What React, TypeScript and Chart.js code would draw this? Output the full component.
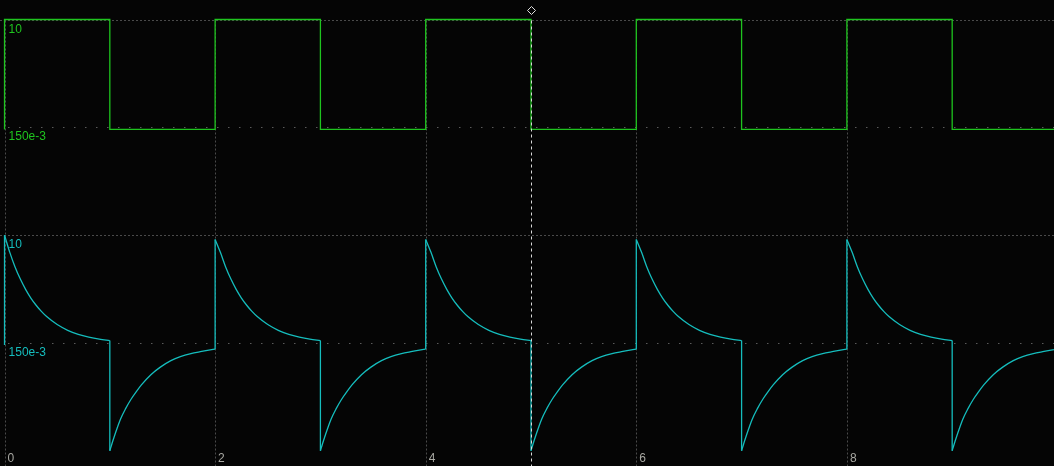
import React, { useEffect, useRef } from "react";
import { Chart, registerables } from "chart.js";

Chart.register(...registerables);

// ---- axis ranges (in screen divisions) ----
const xRange = [-0.043, 9.967];
const yRange = [-0.142, 4.181];

// ---- grid / ticks ----
const xGridValues = [0, 2, 4, 6, 8];
const xTickValues = [0, 2, 4, 6, 8];
const xTickLabels = ["0", "2", "4", "6", "8"];
const yDenseGrid = [4, 2];
const ySparseGrid = [3, 1];
const triggerX = 5;

// ---- channel reference labels ----
const greenRefValues = [4, 3];
const greenRefLabels = ["10", "150e-3"];
const cyanRefValues = [2, 1];
const cyanRefLabels = ["10", "150e-3"];

// ---- green square wave ----
const greenStart = 2.98;
const greenEdges = [0, 1, 2, 3, 4, 5, 6, 7, 8, 9];
const greenLevels = [4.0, 2.98, 4.0, 2.98, 4.0, 2.98, 4.0, 2.98, 4.0, 2.98];
const greenEnd = 10;

// ---- cyan RC response (one period, repeated each cycle) ----
const cyanCycleStarts = [0, 2, 4, 6, 8];
const cyanInitial = 0.98;
const cyanPeaks = [2.0, 1.96, 1.96, 1.96, 1.96];
const cyanDecayT = [0, 0.05, 0.1, 0.15, 0.2, 0.25, 0.3, 0.35, 0.4, 0.5, 0.6, 0.7, 0.8, 0.9, 1.0];
const cyanDecayV = [2.0, 1.84, 1.705, 1.592, 1.497, 1.416, 1.349, 1.292, 1.244, 1.17, 1.117, 1.08, 1.054, 1.035, 1.022];
const cyanRiseT = [1.0, 1.02, 1.04, 1.07, 1.1, 1.15, 1.2, 1.25, 1.3, 1.39, 1.48, 1.58, 1.67, 1.77, 1.86, 2.0];
const cyanRiseV = [0.0, 0.065, 0.125, 0.21, 0.29, 0.39, 0.475, 0.545, 0.61, 0.705, 0.775, 0.835, 0.872, 0.9, 0.918, 0.943];

const GREEN = "#1fc41f";
const CYAN = "#15bdbd";
const FONT = "'Liberation Sans', Arial, sans-serif";

function buildGreen() {
  const pts: { x: number; y: number }[] = [];
  let prev = greenStart;
  greenEdges.forEach((e, i) => {
    pts.push({ x: e, y: prev });
    pts.push({ x: e, y: greenLevels[i] });
    prev = greenLevels[i];
  });
  pts.push({ x: greenEnd, y: prev });
  return pts;
}

function buildCyan() {
  const sets: any[] = [];
  const jumps: ({ x: number; y: number | null })[] = [];
  let prevEnd = cyanInitial;
  cyanCycleStarts.forEach((c, k) => {
    const decay = cyanDecayT.map((t, i) => ({ x: c + t, y: i === 0 ? cyanPeaks[k] : cyanDecayV[i] }));
    const rise = cyanRiseT.map((t, i) => ({ x: c + t, y: cyanRiseV[i] }));
    sets.push(decay, rise);
    jumps.push({ x: c, y: prevEnd }, { x: c, y: cyanPeaks[k] }, { x: c, y: null });
    jumps.push({ x: c + 1, y: decay[decay.length - 1].y as number }, { x: c + 1, y: rise[0].y }, { x: c + 1, y: null });
    prevEnd = rise[rise.length - 1].y;
  });
  return { sets, jumps };
}

const scopePlugin = {
  id: "scope",
  beforeDraw(chart: any) {
    const { ctx, width, height } = chart;
    ctx.save();
    ctx.fillStyle = "#050505";
    ctx.fillRect(0, 0, width, height);
    ctx.restore();
  },
  beforeDatasetsDraw(chart: any) {
    const { ctx, chartArea, scales } = chart;
    const xs = scales.x;
    const ys = scales.y;
    const top = Math.round(ys.getPixelForValue(4)) + 0.5;
    ctx.save();
    ctx.lineWidth = 1;
    ctx.strokeStyle = "#4a4a4a";
    ctx.setLineDash([2, 2]);
    xGridValues.forEach((v) => {
      const px = Math.round(xs.getPixelForValue(v)) + 0.5;
      ctx.beginPath();
      ctx.moveTo(px, top);
      ctx.lineTo(px, chartArea.bottom);
      ctx.stroke();
    });
    yDenseGrid.forEach((v) => {
      const py = Math.round(ys.getPixelForValue(v)) + 0.5;
      ctx.beginPath();
      ctx.moveTo(chartArea.left, py);
      ctx.lineTo(chartArea.right, py);
      ctx.stroke();
    });
    ctx.strokeStyle = "#5a5a5a";
    ctx.setLineDash([1.5, 9.5]);
    ySparseGrid.forEach((v) => {
      const py = Math.round(ys.getPixelForValue(v)) + 0.5;
      ctx.beginPath();
      ctx.moveTo(chartArea.left + 8, py);
      ctx.lineTo(chartArea.right, py);
      ctx.stroke();
    });
    ctx.restore();
  },
  afterDatasetsDraw(chart: any) {
    const { ctx, chartArea, scales } = chart;
    const xs = scales.x;
    const ys = scales.y;
    const top = Math.round(ys.getPixelForValue(4)) + 0.5;
    const tx = Math.round(xs.getPixelForValue(triggerX)) + 0.5;
    ctx.save();
    ctx.strokeStyle = "#d8d8d8";
    ctx.lineWidth = 1;
    ctx.setLineDash([3, 3]);
    ctx.beginPath();
    ctx.moveTo(tx, top);
    ctx.lineTo(tx, chartArea.bottom);
    ctx.stroke();
    ctx.setLineDash([]);
    const dy = top - 10;
    ctx.beginPath();
    ctx.moveTo(tx, dy - 4);
    ctx.lineTo(tx + 4, dy);
    ctx.lineTo(tx, dy + 4);
    ctx.lineTo(tx - 4, dy);
    ctx.closePath();
    ctx.strokeStyle = "#e0e0e0";
    ctx.stroke();
    ctx.font = `12px ${FONT}`;
    ctx.textBaseline = "alphabetic";
    ctx.textAlign = "left";
    const lx = xs.getPixelForValue(0) + 4;
    ctx.fillStyle = GREEN;
    greenRefValues.forEach((v, i) => {
      ctx.fillText(greenRefLabels[i], lx, ys.getPixelForValue(v) + 13);
    });
    ctx.fillStyle = CYAN;
    cyanRefValues.forEach((v, i) => {
      ctx.fillText(cyanRefLabels[i], lx, ys.getPixelForValue(v) + 13);
    });
    ctx.fillStyle = "#a8a8a2";
    xTickValues.forEach((v, i) => {
      ctx.fillText(xTickLabels[i], xs.getPixelForValue(v) + 3, chartArea.bottom - 4);
    });
    ctx.restore();
  },
};

export default function App() {
  const ref = useRef<HTMLCanvasElement | null>(null);
  useEffect(() => {
    if (!ref.current) return;
    const { sets, jumps } = buildCyan();
    const datasets: any[] = [
      {
        data: buildGreen(),
        borderColor: GREEN,
        borderWidth: 1.3,
        pointRadius: 0,
        tension: 0,
        clip: false,
      },
      {
        data: jumps,
        borderColor: CYAN,
        borderWidth: 1.3,
        pointRadius: 0,
        tension: 0,
        spanGaps: false,
      },
      ...sets.map((d: any) => ({
        data: d,
        borderColor: CYAN,
        borderWidth: 1.3,
        pointRadius: 0,
        cubicInterpolationMode: "monotone",
      })),
    ];
    const chart = new Chart(ref.current, {
      type: "line",
      data: { datasets },
      options: {
        animation: false,
        responsive: false,
        devicePixelRatio: 1,
        layout: { padding: 0 },
        plugins: { legend: { display: false }, tooltip: { enabled: false } },
        scales: {
          x: { type: "linear", min: xRange[0], max: xRange[1], display: false },
          y: { type: "linear", min: yRange[0], max: yRange[1], display: false },
        },
        elements: { line: { fill: false } },
      },
      plugins: [scopePlugin],
    } as any);
    return () => chart.destroy();
  }, []);
  return (
    <div style={{ position: "absolute", left: 0, top: 0, width: 1054, height: 466, background: "#050505" }}>
      <canvas ref={ref} width={1054} height={466} style={{ display: "block", width: 1054, height: 466 }} />
    </div>
  );
}
